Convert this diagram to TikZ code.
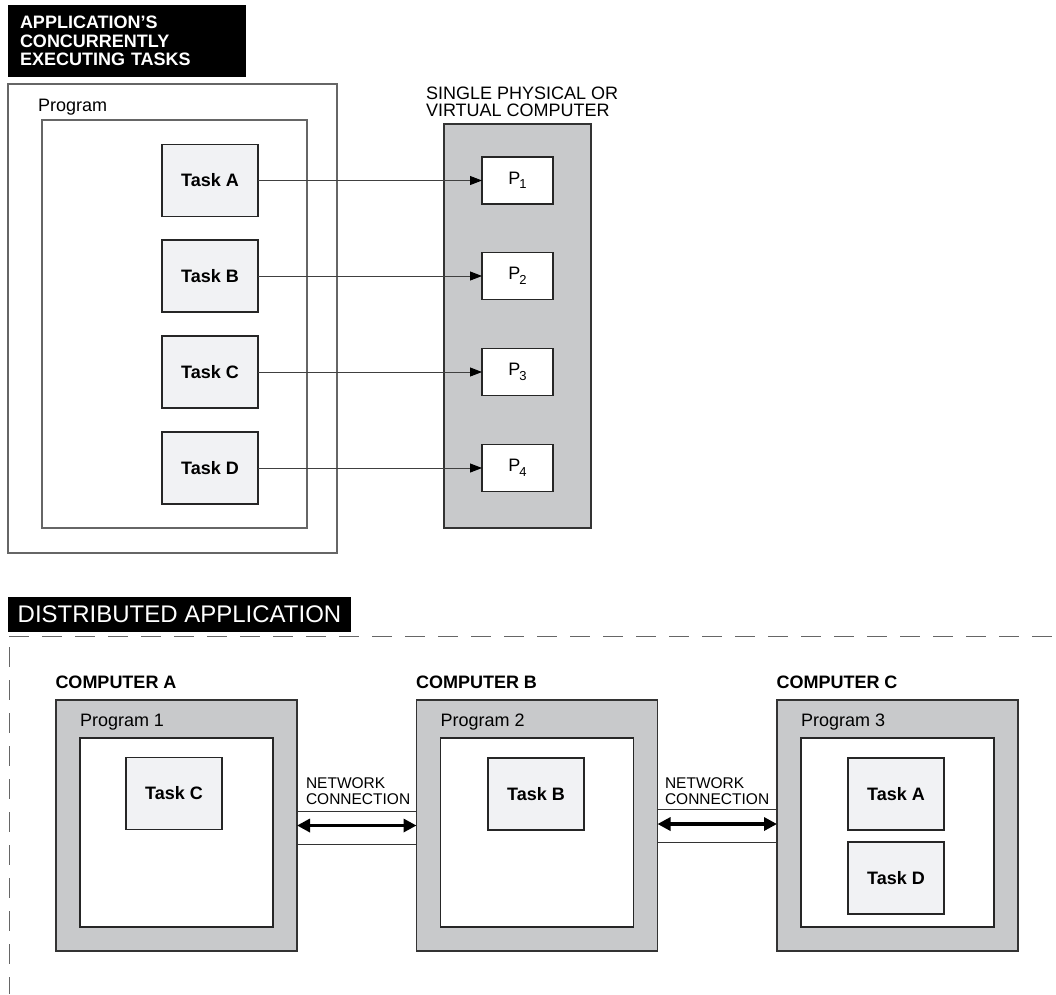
\documentclass[tikz,border=0pt]{standalone}
\usepackage{fontspec}
\setmainfont{Liberation Sans}
\usetikzlibrary{arrows.meta}
\definecolor{boxgray}{HTML}{C8C9CB}
\definecolor{taskgray}{HTML}{F1F2F4}

\begin{document}
\begin{tikzpicture}[x=1pt, y=-1pt,
    every node/.style={inner sep=0pt, outer sep=0pt},
    frame/.style={draw=black!60, line width=1.1pt},
    task/.style={draw=black!85, line width=1.1pt, fill=taskgray, minimum width=96pt,
      minimum height=72pt, font=\bfseries\fontsize{18}{18}\selectfont},
    proc/.style={draw=black!85, line width=1.1pt, fill=white, minimum width=71pt,
      minimum height=47pt, font=\fontsize{18}{18}\selectfont},
    computer/.style={draw=black!80, line width=1.1pt, fill=boxgray},
    banner/.style={fill=black, text=white},
    label/.style={anchor=west, font=\fontsize{18}{18}\selectfont},
    boldlabel/.style={anchor=west, font=\bfseries\fontsize{18}{18}\selectfont},
    small/.style={anchor=west, align=left, font=\fontsize{15.5}{16}\selectfont},
    link/.style={draw=black!75, line width=0.9pt,
      -{Triangle[length=12pt,width=9pt,color=black]}},
    wire/.style={draw=black!80, line width=0.9pt},
    net/.style={line width=3.8pt,
      {Triangle[length=13pt,width=13pt]}-{Triangle[length=13pt,width=13pt]}},
    border/.style={draw=black!60, line width=0.9pt, dash pattern=on 20pt off 13pt}]

  \useasboundingbox (0, 0) rectangle (1056, 994);

  \node[banner, minimum width=238pt, minimum height=72pt, text width=214pt, align=left,
    font=\bfseries\fontsize{18}{18.5}\selectfont] (apptasks) at (127, 41)
    {APPLICATION'S\\CONCURRENTLY\\EXECUTING TASKS};

  \node[frame, minimum width=329pt, minimum height=469pt] (prog) at (172.5, 318.5) {};
  \node[label] (proglabel) at (38, 107.5) {Program};
  \node[frame, minimum width=265pt, minimum height=408pt] (progin) at (174.5, 324) {};

  \node[computer, minimum width=147pt, minimum height=404pt] (cpu) at (517.5, 326) {};
  \node[label, align=left, font=\fontsize{18}{16.5}\selectfont] (cpulabel) at (426, 102)
    {SINGLE PHYSICAL OR\\VIRTUAL COMPUTER};

  \foreach \t/\n/\y in {A/1/180.5, B/2/276, C/3/372, D/4/468} {
    \node[task] (task\t) at (210, \y) {Task \t};
    \node[proc] (p\n) at (517.5, \y)
      {P\kern-1pt\raisebox{-4.5pt}{\fontsize{13}{13}\selectfont\n}};
    \draw[link] (task\t) -- (p\n);
  }

  \node[banner, minimum width=343pt, minimum height=35pt,
    font=\fontsize{24}{24}\selectfont] (distapp) at (179.5, 614.5) {DISTRIBUTED APPLICATION};
  \draw[border] (9, 636) -- (1056, 636);
  \draw[border] (9, 647) -- (9, 994);

  \foreach \c/\x/\n in {A/176.5/1, B/537/2, C/897.5/3} {
    \node[computer, minimum width=241pt, minimum height=251pt] (comp\c) at (\x, 825.5) {};
    \node[boldlabel] (comp\c label) at ([xshift=-0.5pt]comp\c.north west |- 0, 682)
      {COMPUTER \c};
    \node[frame, draw=black!85, fill=white, minimum width=193pt, minimum height=189pt]
      (prog\n) at (\x, 832.5) {};
    \node[label] (prog\n label) at (prog\n.north west |- 0, 722) {Program \n};
  }

  \node[task] (remoteC) at (174, 793.5) {Task C};
  \node[task] (remoteB) at (536, 794) {Task B};
  \node[task] (remoteA) at (896, 794) {Task A};
  \node[task] (remoteD) at (896, 878) {Task D};

  \draw[wire] ([yshift=14.5pt]compA.east) -- ([yshift=14.5pt]compB.west);
  \draw[wire] ([yshift=-18.5pt]compA.east) -- ([yshift=-18.5pt]compB.west);
  \draw[net] (compA) -- (compB);
  \node[small] (netlabelA) at (306, 791) {NETWORK\\CONNECTION};

  \draw[wire] ([yshift=16.5pt]compB.east) -- ([yshift=16.5pt]compC.west);
  \draw[wire] ([yshift=-16.5pt]compB.east) -- ([yshift=-16.5pt]compC.west);
  \draw[net] ([yshift=1.5pt]compB.east) -- ([yshift=1.5pt]compC.west);
  \node[small] (netlabelB) at (665, 791) {NETWORK\\CONNECTION};
\end{tikzpicture}
\end{document}
